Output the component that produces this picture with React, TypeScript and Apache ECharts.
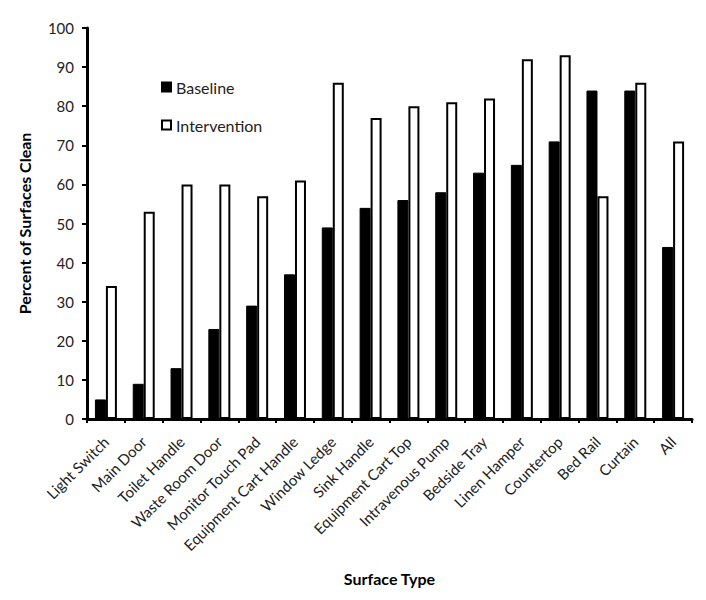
import React, { useEffect, useRef } from "react";
import * as echarts from "echarts";

const categories = [
  "Light Switch", "Main Door", "Toilet Handle", "Waste Room Door", "Monitor Touch Pad",
  "Equipment Cart Handle", "Window Ledge", "Sink Handle", "Equipment Cart Top",
  "Intravenous Pump", "Bedside Tray", "Linen Hamper", "Countertop", "Bed Rail", "Curtain", "All",
];
const baseline = [5, 9, 13, 23, 29, 37, 49, 54, 56, 58, 63, 65, 71, 84, 84, 44];
const intervention = [34, 53, 60, 60, 57, 61, 86, 77, 80, 81, 82, 92, 93, 57, 86, 71];

const FONT = "Lato";

export default function App() {
  const ref = useRef<HTMLDivElement>(null);
  useEffect(() => {
    if (!ref.current) return;
    const chart = echarts.init(ref.current, null, { renderer: "svg" });
    chart.setOption({
      animation: false,
      textStyle: { fontFamily: FONT },
      grid: { left: 76, right: 6, top: 20, bottom: 173, containLabel: false },
      legend: {
        orient: "vertical",
        left: 148,
        top: 66,
        itemGap: 22,
        itemWidth: 9,
        itemHeight: 9,
        icon: "rect",
        textStyle: { fontFamily: FONT, fontSize: 16, color: "#222" },
        data: ["Baseline", "Intervention"],
      },
      xAxis: {
        type: "category",
        data: categories,
        name: "Surface Type",
        nameLocation: "middle",
        nameGap: 151,
        nameTextStyle: { fontFamily: FONT, fontSize: 16, fontWeight: "bold", color: "#000" },
        axisLine: { lineStyle: { color: "#000", width: 3 } },
        axisTick: { show: true, length: 4, lineStyle: { color: "#000", width: 2 } },
        axisLabel: { rotate: 45, fontSize: 15, color: "#222", margin: 20, interval: 0, fontFamily: FONT },
      },
      yAxis: {
        type: "value",
        min: 0,
        max: 100,
        interval: 10,
        name: "Percent of Surfaces Clean",
        nameLocation: "middle",
        nameGap: 55,
        nameTextStyle: { fontFamily: FONT, fontSize: 16, fontWeight: "bold", color: "#000" },
        axisLine: { show: true, lineStyle: { color: "#000", width: 3 } },
        axisTick: { show: true, length: 5, lineStyle: { color: "#000", width: 2 } },
        axisLabel: { fontSize: 15, color: "#222", margin: 13, fontFamily: FONT },
        splitLine: { show: false },
      },
      series: [
        {
          name: "Baseline",
          type: "bar",
          data: baseline,
          barWidth: 11,
          barGap: "0%",
          itemStyle: { color: "#000", borderColor: "#000", borderWidth: 1 },
        },
        {
          name: "Intervention",
          type: "bar",
          data: intervention,
          barWidth: 11,
          barGap: "0%",
          itemStyle: { color: "#fff", borderColor: "#000", borderWidth: 2 },
        },
      ],
    });
    return () => chart.dispose();
  }, []);
  return <div ref={ref} style={{ width: 690, height: 584 }} />;
}
